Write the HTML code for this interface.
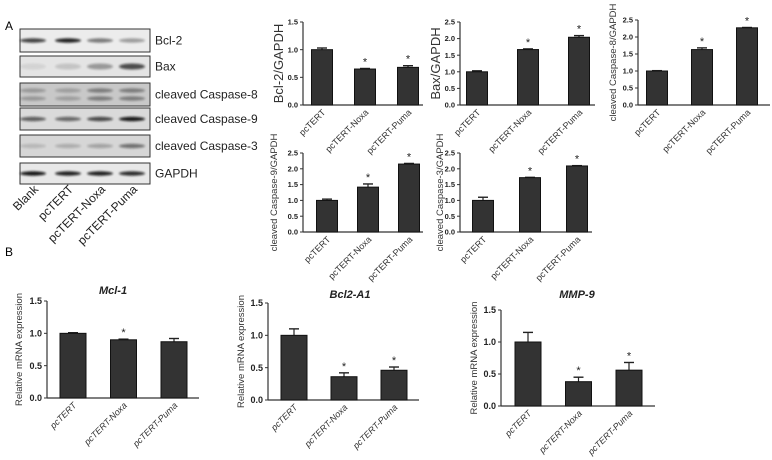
<!DOCTYPE html>
<html><head><meta charset="utf-8"><style>
body{margin:0;background:#fff;width:772px;height:460px;overflow:hidden}
svg{display:block;font-family:"Liberation Sans",Arial,sans-serif}
</style></head><body>
<svg id="fig" width="772" height="460" viewBox="0 0 772 460">
<defs><filter id="blur" x="-20%" y="-100%" width="140%" height="300%"><feGaussianBlur stdDeviation="1.1"/></filter></defs>
<text x="5" y="30" font-size="12">A</text>
<text x="5" y="256" font-size="12">B</text>
<g id="blot"></g>
<g id="charts"></g>
</svg>
<script>
const NS='http://www.w3.org/2000/svg';
function mk(tag,attrs,parent,txt){const e=document.createElementNS(NS,tag);for(const k in attrs)e.setAttribute(k,attrs[k]);if(txt!==undefined)e.textContent=txt;parent.appendChild(e);return e;}

// ---- Western blot data ----
const blotRows=['Bcl-2','Bax','cleaved Caspase-8','cleaved Caspase-9','cleaved Caspase-3','GAPDH'];
const blotLanes=['Blank','pcTERT','pcTERT-Noxa','pcTERT-Puma'];
const bandIntensity=[[0.75,0.9,0.5,0.35],[0.08,0.15,0.35,0.7],[0.25,0.22,0.4,0.4],[0.6,0.55,0.7,0.95],[0.15,0.2,0.25,0.5],[0.95,0.9,0.9,0.85]];
const blotBg=['#ececec','#e4e4e4','#c8c8c8','#dadada','#d6d6d6','#e8e8e8'];
const rowY=[[29,52],[56,77],[83,106],[108,130],[135,157],[163,184]];
const laneX=[33,68,100,132];
const blot=document.getElementById('blot');
blotRows.forEach((r,i)=>{
  const g=mk('g',{},blot);
  
  
  const [y0,y1]=rowY[i];
  mk('rect',{x:20,y:y0,width:130,height:y1-y0,fill:blotBg[i],stroke:'#333','stroke-width':1},g);
  const cy=(y0+y1)/2;
  blotLanes.forEach((l,j)=>{
    const v=bandIntensity[i][j];
    const offs=i==2?[-4,4]:[0];
    offs.forEach(o=>{
      const b=mk('ellipse',{cx:laneX[j],cy:cy+o,rx:13,ry:i==1?3:2.2,fill:'#111',opacity:v,filter:'url(#blur)'},g);
      
      
    });
  });
  const t=mk('text',{x:155,y:cy+4,'font-size':12,fill:'#222'},g,r);
  
  
});
blotLanes.forEach((l,j)=>{
  const t=mk('text',{x:laneX[j]+6,y:190,'font-size':12,fill:'#222','text-anchor':'end',transform:`rotate(-45 ${laneX[j]+6} 190)`},blot,l);
  
  
});

// ---- Chart data ----
const groups=['pcTERT','pcTERT-Noxa','pcTERT-Puma'];
const bcl2Vals=[1.0,0.65,0.68], bcl2Err=[0.03,0.01,0.03], bcl2Star=[0,1,1];
const baxVals=[1.0,1.67,2.04], baxErr=[0.03,0.02,0.05], baxStar=[0,1,1];
const casp8Vals=[1.0,1.63,2.27], casp8Err=[0.01,0.05,0.01], casp8Star=[0,1,1];
const casp9Vals=[1.0,1.42,2.15], casp9Err=[0.04,0.1,0.02], casp9Star=[0,1,1];
const casp3Vals=[1.0,1.72,2.09], casp3Err=[0.1,0.01,0.01], casp3Star=[0,1,1];
const mcl1Vals=[1.0,0.9,0.87], mcl1Err=[0.01,0.01,0.05], mcl1Star=[0,1,0];
const a1Vals=[1.0,0.36,0.46], a1Err=[0.1,0.06,0.05], a1Star=[0,1,1];
const mmpVals=[1.0,0.38,0.56], mmpErr=[0.15,0.07,0.12], mmpStar=[0,1,1];
const ticks15=['0.0','0.5','1.0','1.5'];
const ticks25=['0.0','0.5','1.0','1.5','2.0','2.5'];

const charts=[
 {name:'bcl2-chart',vals:bcl2Vals,err:bcl2Err,star:bcl2Star,ticks:ticks15,ax:303,top:22,bot:105,end:423,b0:322,step:43,bw:21,yl:'Bcl-2/GAPDH',ylx:283,ylfs:13,tfs:7.5,xfs:9,it:false},
 {name:'bax-chart',vals:baxVals,err:baxErr,star:baxStar,ticks:ticks25,ax:460,top:22,bot:105,end:595,b0:477,step:51,bw:21,yl:'Bax/GAPDH',ylx:440,ylfs:13,tfs:7.5,xfs:9,it:false},
 {name:'caspase8-chart',vals:casp8Vals,err:casp8Err,star:casp8Star,ticks:ticks25,ax:638,top:20,bot:105,end:770,b0:657,step:45,bw:21,yl:'cleaved Caspase-8/GAPDH',ylx:616,ylfs:9.5,tfs:7.5,xfs:9,it:false},
 {name:'caspase9-chart',vals:casp9Vals,err:casp9Err,star:casp9Star,ticks:ticks25,ax:303,top:153,bot:232,end:423,b0:327,step:41,bw:21,yl:'cleaved Caspase-9/GAPDH',ylx:277,ylfs:9.5,tfs:7.5,xfs:9,it:false},
 {name:'caspase3-chart',vals:casp3Vals,err:casp3Err,star:casp3Star,ticks:ticks25,ax:460,top:153,bot:232,end:592,b0:483,step:47,bw:21,yl:'cleaved Caspase-3/GAPDH',ylx:443,ylfs:9.5,tfs:7.5,xfs:9,it:false},
 {name:'mcl1-chart',vals:mcl1Vals,err:mcl1Err,star:mcl1Star,ticks:ticks15,ax:47,top:301,bot:398,end:199,b0:73,step:50.5,bw:26,yl:'Relative mRNA expression',ylx:22,ylfs:9.5,tfs:9,xfs:9,it:true,title:'Mcl-1',tx:113,ty:294},
 {name:'bcl2a1-chart',vals:a1Vals,err:a1Err,star:a1Star,ticks:ticks15,ax:268,top:303,bot:400,end:419,b0:294,step:50,bw:26,yl:'Relative mRNA expression',ylx:244,ylfs:9.5,tfs:9,xfs:9,it:true,title:'Bcl2-A1',tx:350,ty:298},
 {name:'mmp9-chart',vals:mmpVals,err:mmpErr,star:mmpStar,ticks:ticks15,ax:501,top:310,bot:406,end:655,b0:528,step:50.5,bw:26,yl:'Relative mRNA expression',ylx:477,ylfs:9.5,tfs:9,xfs:9,it:true,title:'MMP-9',tx:577,ty:298}
];
const root=document.getElementById('charts');
charts.forEach(c=>{
  const g=mk('g',{},root);
  
  
  const maxV=parseFloat(c.ticks[c.ticks.length-1]);
  const y=v=>c.bot-(v/maxV)*(c.bot-c.top);
  const x=i=>c.b0+i*c.step;
  mk('line',{x1:c.ax,y1:c.top,x2:c.ax,y2:c.bot,stroke:'#333','stroke-width':1.2},g);
  mk('line',{x1:c.ax,y1:c.bot,x2:c.end,y2:c.bot,stroke:'#333','stroke-width':1.2},g);
  c.ticks.forEach(t=>{
    const v=parseFloat(t);
    mk('line',{x1:c.ax-3,y1:y(v),x2:c.ax,y2:y(v),stroke:'#333'},g);
    const tl=mk('text',{x:c.ax-5,y:y(v)+c.tfs*0.35,'font-size':c.tfs,'font-weight':'bold','text-anchor':'end',fill:'#222'},g,t);
    
    
  });
  c.vals.forEach((v,i)=>{
    const cx=x(i);
    const e=c.err[i];
    mk('line',{x1:cx,y1:y(v),x2:cx,y2:y(v+e),stroke:'#222','stroke-width':1.2},g);
    mk('line',{x1:cx-5,y1:y(v+e),x2:cx+5,y2:y(v+e),stroke:'#222','stroke-width':1.4},g);
    const r=mk('rect',{x:cx-c.bw/2,y:y(v),width:c.bw,height:c.bot-y(v),fill:'#333',stroke:'#111','stroke-width':1},g);
    
    
    if(c.star[i]){
      const s=mk('text',{x:cx,y:y(v+e)-3,'font-size':11,'text-anchor':'middle',fill:'#222'},g,'*');
      
      
    }
    const lx=cx+4, ly=c.bot+8;
    const xl=mk('text',{x:lx,y:ly,'font-size':c.xfs,'text-anchor':'end',fill:'#333','font-style':c.it?'italic':'normal',transform:`rotate(-45 ${lx} ${ly})`},g,groups[i]);
    
    
  });
  const my=(c.top+c.bot)/2;
  const yl=mk('text',{x:c.ylx,y:my,'font-size':c.ylfs,'text-anchor':'middle',fill:'#333',transform:`rotate(-90 ${c.ylx} ${my})`},g,c.yl);
  
  
  if(c.title){
    const t=mk('text',{x:c.tx,y:c.ty,'font-size':11,'font-weight':'bold','font-style':'italic','text-anchor':'middle',fill:'#222'},g,c.title);
    
    
  }
});
</script>
</body></html>
